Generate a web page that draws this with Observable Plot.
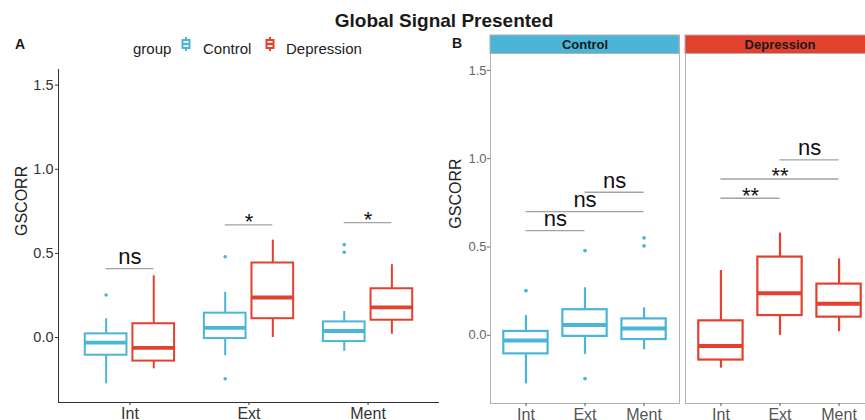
<!DOCTYPE html>
<html><head><meta charset="utf-8">
<script src="https://cdn.jsdelivr.net/npm/d3@7"></script>
<script src="https://cdn.jsdelivr.net/npm/@observablehq/plot@0.6"></script>
<style>
html,body{margin:0;padding:0;background:#fff;overflow:hidden;}
#wrap{position:relative;width:865px;height:420px;overflow:hidden;font-family:"Liberation Sans",Arial,sans-serif;color:#1a1a1a;}
.abs{position:absolute;line-height:1;white-space:nowrap;z-index:2;}
#title{left:444px;top:11px;transform:translateX(-50%);font-size:19px;font-weight:bold;}
.tag{font-size:14px;font-weight:bold;}
.leg{font-size:15px;color:#222;top:41px;}
#plotA{position:absolute;left:0;top:60px;width:440px;height:360px;}
#plotB{position:absolute;left:440px;top:0;width:440px;height:420px;}
</style></head><body>
<div id="wrap">
  <div id="plotA"></div>
  <div id="plotB"></div>
  <div class="abs" id="title">Global Signal Presented</div>
  <div class="abs tag" style="left:15px;top:37px">A</div>
  <div class="abs tag" style="left:452px;top:36px">B</div>
  <div class="abs leg" style="left:133px">group</div>
  <svg class="abs" style="left:181px;top:37px" width="10" height="14"><line x1="5" y1="0" x2="5" y2="14" stroke="#4bb5d7" stroke-width="2"/><rect x="1.5" y="3" width="7" height="8" fill="#fff" stroke="#4bb5d7" stroke-width="2"/><line x1="1.5" y1="7" x2="8.5" y2="7" stroke="#4bb5d7" stroke-width="2.5"/></svg>
  <div class="abs leg" style="left:203px">Control</div>
  <svg class="abs" style="left:265px;top:37px" width="10" height="14"><line x1="5" y1="0" x2="5" y2="14" stroke="#e2412e" stroke-width="2"/><rect x="1.5" y="3" width="7" height="8" fill="#fff" stroke="#e2412e" stroke-width="2"/><line x1="1.5" y1="7" x2="8.5" y2="7" stroke="#e2412e" stroke-width="2.5"/></svg>
  <div class="abs leg" style="left:286px">Depression</div>
</div>
<script>
// ---------- data ----------
const categories = ["Int", "Ext", "Ment"];
const groups = ["Control", "Depression"];
const groupColors = ["#4bb5d7", "#e2412e"];
// five-number summaries per category: [lower whisker, Q1, median, Q3, upper whisker]
const controlStats = [
  [-0.275, -0.105, -0.030, 0.022, 0.112],
  [-0.108, -0.006, 0.058, 0.145, 0.269],
  [-0.082, -0.024, 0.039, 0.093, 0.155]
];
const depressionStats = [
  [-0.186, -0.140, -0.061, 0.082, 0.367],
  [0.000, 0.112, 0.238, 0.443, 0.579],
  [0.020, 0.103, 0.179, 0.290, 0.433]
];
const controlOutliers = [[0.253], [0.480, -0.245], [0.552, 0.507]];
const depressionOutliers = [[], [], []];
const yTicks = [0, 0.5, 1.0, 1.5];
const yDomain = [-0.386, 1.593];
const xDomain = [-0.6, 2.6];
// Panel A: Control vs Depression within each condition
const betweenY = [0.41, 0.67, 0.683];
const betweenLabels = ["ns", "*", "*"];
// Panel B: condition pairs within each group
const pairs = [["Int", "Ext"], ["Int", "Ment"], ["Ext", "Ment"]];
const controlPairY = [0.593, 0.70, 0.81];
const controlPairLabels = ["ns", "ns", "ns"];
const depressionPairY = [0.776, 0.885, 0.993];
const depressionPairLabels = ["**", "**", "ns"];

// ---------- tables ----------
const stats = {Control: controlStats, Depression: depressionStats};
const outl = {Control: controlOutliers, Depression: depressionOutliers};
const boxes = groups.flatMap(g => categories.map((c, i) => {
  const [lo, q1, med, q3, hi] = stats[g][i];
  return {group: g, cat: c, i, lo, q1, med, q3, hi};
}));
const outliers = groups.flatMap(g => categories.flatMap((c, i) => outl[g][i].map(v => ({group: g, i, v}))));
const sigA = categories.map((c, i) => ({i, y: betweenY[i], label: betweenLabels[i]}));
const pairY = {Control: controlPairY, Depression: depressionPairY};
const pairLab = {Control: controlPairLabels, Depression: depressionPairLabels};
const sigB = groups.flatMap(g => pairs.map((p, k) => ({
  group: g, a: categories.indexOf(p[0]), b: categories.indexOf(p[1]), y: pairY[g][k], label: pairLab[g][k]
})));

const font = "Liberation Sans, Arial, sans-serif";
const fmt = d3.format(".1f");
const sigGray = "#a3a3a3";

// ---------- Panel A ----------
const dodge = {Control: -0.2, Depression: 0.2};
const hA = 0.175;
const cx = d => d.i + dodge[d.group];
const plotA = Plot.plot({
  width: 440, height: 360, marginLeft: 58, marginRight: 1, marginTop: 9, marginBottom: 18,
  style: {fontFamily: font, background: "transparent", overflow: "visible"},
  x: {domain: xDomain},
  y: {domain: yDomain},
  color: {domain: groups, range: groupColors},
  marks: [
    Plot.ruleX([xDomain[0]], {stroke: "#333", strokeWidth: 1}),
    Plot.ruleY([yDomain[0]], {stroke: "#333", strokeWidth: 1}),
    Plot.axisY({ticks: yTicks, tickFormat: fmt, tickSize: 3, tickPadding: 2, fontSize: 14.5, color: "#333", label: null}),
    Plot.axisX({ticks: [0, 1, 2], tickFormat: i => categories[i], tickSize: 3, tickPadding: 2, fontSize: 16, color: "#333", label: null}),
    Plot.text(["GSCORR"], {frameAnchor: "left", y: (yDomain[0] + yDomain[1]) / 2, rotate: -90, dx: -37, fontSize: 16, fill: "#222"}),
    Plot.ruleX(boxes, {x: cx, y1: "q3", y2: "hi", stroke: "group", strokeWidth: 2}),
    Plot.ruleX(boxes, {x: cx, y1: "lo", y2: "q1", stroke: "group", strokeWidth: 2}),
    Plot.rect(boxes, {x1: d => cx(d) - hA, x2: d => cx(d) + hA, y1: "q1", y2: "q3", stroke: "group", fill: "white", strokeWidth: 2}),
    Plot.ruleY(boxes, {x1: d => cx(d) - hA, x2: d => cx(d) + hA, y: "med", stroke: "group", strokeWidth: 3.8}),
    Plot.dot(outliers, {x: cx, y: "v", fill: "group", r: 1.8}),
    Plot.ruleY(sigA, {x1: d => d.i + dodge.Control, x2: d => d.i + dodge.Depression, y: "y", stroke: sigGray, strokeWidth: 1.3}),
    Plot.text(sigA, {filter: d => d.label === "ns", x: "i", y: "y", text: "label", fontSize: 22, lineAnchor: "bottom", dy: -4.5, fill: "#111"}),
    Plot.text(sigA, {filter: d => d.label !== "ns", x: "i", y: "y", text: "label", fontSize: 22, lineAnchor: "bottom", dy: 4.4, fill: "#111"})
  ]
});
document.getElementById("plotA").append(plotA);

// ---------- Panel B ----------
const hB = 0.375;
const stripH = (yDomain[1] - yDomain[0]) * 18.5 / 350;
const yTop = yDomain[1] + stripH;
const borderGray = "#b0b0b0";
const plotB = Plot.plot({
  width: 440, height: 420, marginLeft: 49, marginRight: 5, marginTop: 35, marginBottom: 17,
  style: {fontFamily: font, background: "transparent", overflow: "visible"},
  fx: {domain: groups, paddingInner: 0.0306, paddingOuter: 0, axis: null},
  x: {domain: xDomain},
  y: {domain: [yDomain[0], yTop]},
  color: {domain: groups, range: groupColors},
  marks: [
    Plot.frame({stroke: borderGray}),
    Plot.rect(groups, {fx: d => d, x1: xDomain[0], x2: xDomain[1], y1: yDomain[1], y2: yTop, fill: d => d, stroke: borderGray}),
    Plot.text(groups, {fx: d => d, x: (xDomain[0] + xDomain[1]) / 2, y: (yDomain[1] + yTop) / 2, text: d => d, fontWeight: "bold", fontSize: 13, fill: "#1a1a1a"}),
    Plot.axisY({ticks: yTicks, tickFormat: fmt, tickSize: 3, tickPadding: 1, fontSize: 13, color: "#666", label: null}),
    Plot.axisX({ticks: [0, 1, 2], tickFormat: i => categories[i], tickSize: 3, tickPadding: 2, fontSize: 16, color: "#555", label: null}),
    Plot.text(["GSCORR"], {fx: () => groups[0], frameAnchor: "left", y: (yDomain[0] + yDomain[1]) / 2, rotate: -90, dx: -35, fontSize: 16, fill: "#222"}),
    Plot.ruleX(boxes, {fx: "group", x: "i", y1: "q3", y2: "hi", stroke: "group", strokeWidth: 2.2}),
    Plot.ruleX(boxes, {fx: "group", x: "i", y1: "lo", y2: "q1", stroke: "group", strokeWidth: 2.2}),
    Plot.rect(boxes, {fx: "group", x1: d => d.i - hB, x2: d => d.i + hB, y1: "q1", y2: "q3", stroke: "group", fill: "white", strokeWidth: 2.2}),
    Plot.ruleY(boxes, {fx: "group", x1: d => d.i - hB, x2: d => d.i + hB, y: "med", stroke: "group", strokeWidth: 4}),
    Plot.dot(outliers, {fx: "group", x: "i", y: "v", fill: "group", r: 1.9}),
    Plot.ruleY(sigB, {fx: "group", x1: "a", x2: "b", y: "y", stroke: sigGray, strokeWidth: 1.3}),
    Plot.text(sigB, {filter: d => d.label === "ns", fx: "group", x: d => (d.a + d.b) / 2, y: "y", text: "label", fontSize: 22, lineAnchor: "bottom", dy: -4.5, fill: "#111"}),
    Plot.text(sigB, {filter: d => d.label !== "ns", fx: "group", x: d => (d.a + d.b) / 2, y: "y", text: "label", fontSize: 22, lineAnchor: "bottom", dy: 4.4, fill: "#111"})
  ]
});
document.getElementById("plotB").append(plotB);
</script>
</body></html>
